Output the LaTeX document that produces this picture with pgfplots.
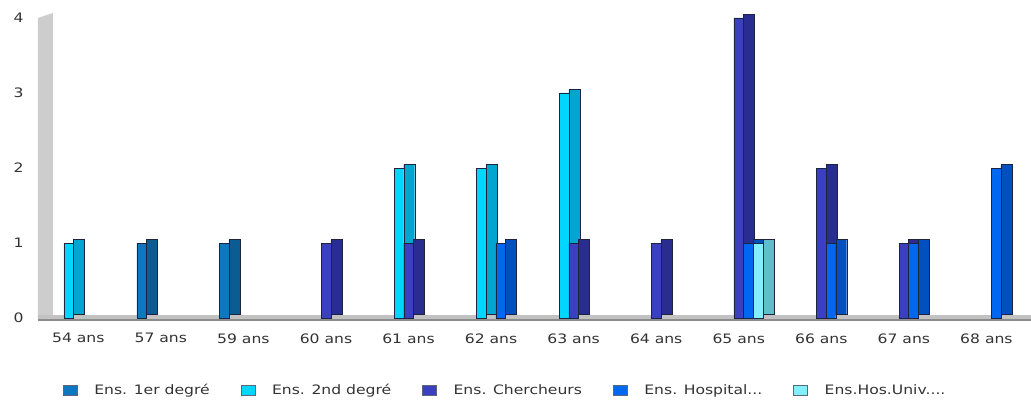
\documentclass[border=0pt]{standalone}
\usepackage{fontspec}
\setmainfont{DejaVu Sans}[FakeStretch=1.2]
\usepackage{pgfplots}
\usepackage{pgfplotstable}
\pgfplotsset{compat=1.18}

\definecolor{txt}{HTML}{333333}
\definecolor{edge}{HTML}{1C2440}
\definecolor{aF}{HTML}{0D78BF}\definecolor{aS}{HTML}{0A5C93}
\definecolor{bF}{HTML}{00D6FF}\definecolor{bS}{HTML}{00A6CF}
\definecolor{cF}{HTML}{3A40C0}\definecolor{cS}{HTML}{292D90}
\definecolor{dF}{HTML}{0068F0}\definecolor{dS}{HTML}{0050C0}
\definecolor{eF}{HTML}{82F0FC}\definecolor{eS}{HTML}{5FBFC8}
\definecolor{wall}{HTML}{CDCDCD}
\definecolor{floorA}{HTML}{C2C2C2}
\definecolor{floorB}{HTML}{8C8C8C}

% x: 0 = 54 ans, 1 = 57 ans, 2 = 59 ans, 3 = 60 ans, 4 = 61 ans, 5 = 62 ans,
%    6 = 63 ans, 7 = 64 ans, 8 = 65 ans, 9 = 66 ans, 10 = 67 ans, 11 = 68 ans
\pgfplotstableread{
x y
1 1
2 1
}\tabA
\pgfplotstableread{
x y
0 1
4 2
5 2
6 3
}\tabB
\pgfplotstableread{
x y
3 1
4 1
6 1
7 1
8 4
9 2
10 1
}\tabC
\pgfplotstableread{
x y
5 1
8 1
9 1
10 1
11 2
}\tabD
\pgfplotstableread{
x y
8 1
}\tabE

\pgfplotsset{
  front/.style 2 args={ybar, bar width=9.6bp, bar shift=#1, fill=#2, draw=edge, line width=0.35bp,
    legend image code/.code={\draw[fill=#2, draw=edge!70, line width=0.4bp] (0bp,-5bp) rectangle (14bp,5bp);\path (29bp,0bp);}},
  side/.style 2 args={ybar, bar width=11bp, bar shift=#1, fill=#2, draw=edge, line width=0.35bp, yshift=3.5bp, forget plot},
}

\begin{document}
\begin{tikzpicture}
\begin{axis}[
  at={(0,0)}, anchor=south west,
  scale only axis, width=994bp, height=305.25bp,
  xmin=-0.5, xmax=11.54, ymin=0, ymax=4.07,
  axis line style={draw=none}, tick style={draw=none},
  xtick={0,...,11},
  xticklabels={54 ans,57 ans,59 ans,60 ans,61 ans,62 ans,63 ans,64 ans,65 ans,66 ans,67 ans,68 ans},
  ytick={0,1,2,3,4},
  clip=false,
  ticklabel style={font=\fontsize{13bp}{15bp}\selectfont, text=txt},
  /pgf/number format/assume math mode=true,
  xticklabel style={yshift=-12bp},
  yticklabel style={xshift=-10bp},
  legend columns=5,
  legend style={at={(0.471,0)}, anchor=center, yshift=-72bp, draw=none, fill=none,
    font=\fontsize{13bp}{15bp}\selectfont, text=txt,
    /tikz/every even column/.append style={column sep=29bp}},
]
% back wall and floor
\fill[wall] ([xshift=1bp]axis cs:-0.5,0) -- ([xshift=1bp]axis cs:-0.5,4) -- ([xshift=16bp]axis cs:-0.5,4.067) -- ([xshift=16bp]axis cs:-0.5,0) -- cycle;
\fill[floorA] ([xshift=1bp,yshift=-2bp]axis cs:-0.5,0) rectangle ([yshift=3bp]axis cs:11.54,0);
\draw[floorB, line width=1.5bp] ([xshift=1bp,yshift=-2bp]axis cs:-0.5,0) -- ([yshift=-2bp]axis cs:11.54,0);

\addplot[side={-8.9bp}{aS}] table {\tabA};
\addplot[front={-19.2bp}{aF}] table {\tabA};
\addlegendentry{Ens. 1er degré}
\addplot[side={0.7bp}{bS}] table {\tabB};
\addplot[front={-9.6bp}{bF}] table {\tabB};
\addlegendentry{Ens. 2nd degré}
\addplot[side={10.3bp}{cS}] table {\tabC};
\addplot[front={0bp}{cF}] table {\tabC};
\addlegendentry{Ens. Chercheurs}
\addplot[side={19.9bp}{dS}] table {\tabD};
\addplot[front={9.6bp}{dF}] table {\tabD};
\addlegendentry{Ens. Hospital...}
\addplot[side={29.5bp}{eS}] table {\tabE};
\addplot[front={19.2bp}{eF}] table {\tabE};
\addlegendentry{Ens.Hos.Univ....}
\end{axis}
\pgfresetboundingbox
\path[use as bounding box] (-37bp,-85bp) rectangle (994bp,318bp);
\end{tikzpicture}
\end{document}
